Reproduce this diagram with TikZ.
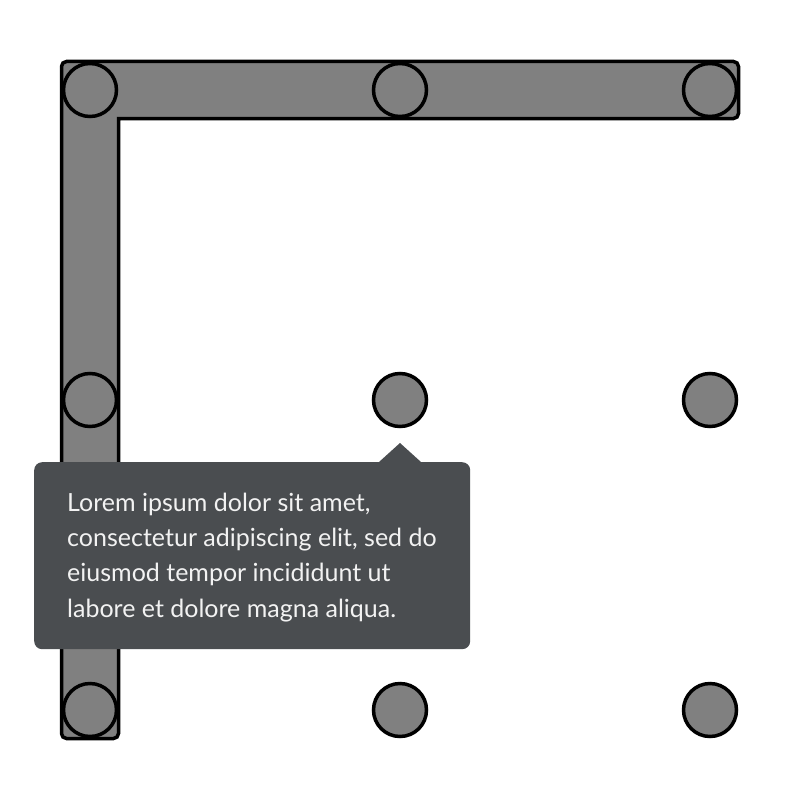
\documentclass[tikz,border=0pt]{standalone}
\usepackage{fontspec}
\setmainfont{Lato}
\definecolor{barfill}{HTML}{808080}
\definecolor{tipfill}{HTML}{4A4D50}
\definecolor{tiptext}{HTML}{F2F2F2}
\begin{document}
\begin{tikzpicture}[x=1pt,y=-1pt,
  dot/.style={circle,draw=black,line width=3.5pt,fill=barfill,minimum size=53pt,inner sep=0pt},
  bar/.style={draw=black,line width=3.5pt,fill=barfill,line join=miter},
  tipbox/.style={fill=tipfill,rounded corners=8pt,minimum width=436pt,minimum height=187pt,inner sep=0pt,anchor=north west},
  tiptxt/.style={text=tiptext,align=left,anchor=north west,inner sep=0pt,font=\fontsize{25pt}{35.4pt}\selectfont}]
\useasboundingbox (0,0) rectangle (800,800);
% L-shaped bar (outer corners rounded, inner corner sharp)
\path[bar] (118.5,118.5)
  [rounded corners=5pt] -- (738.5,118.5) -- (738.5,61.5) -- (61.5,61.5) -- (61.5,738.5) -- (118.5,738.5)
  [sharp corners] -- cycle;
% dots
\foreach \i/\x in {1/90,2/400,3/710}{
  \foreach \j/\y in {1/90,2/400,3/710}{
    \node[dot] (c\j\i) at (\x,\y) {};
  }
}
% tooltip
\node[tipbox] (tip) at (34,462) {};
\fill[tipfill] ([xshift=-21pt]c22.south |- tip.north) -- (c22.south |- 0,443) -- ([xshift=21pt]c22.south |- tip.north) -- cycle;
\node[tiptxt] (txt) at ([xshift=33pt,yshift=-30.5pt]tip.north west) {Lorem ipsum dolor sit amet,\\consectetur adipiscing elit, sed do\\eiusmod tempor incididunt ut\\labore et dolore magna aliqua.};
\end{tikzpicture}
\end{document}
